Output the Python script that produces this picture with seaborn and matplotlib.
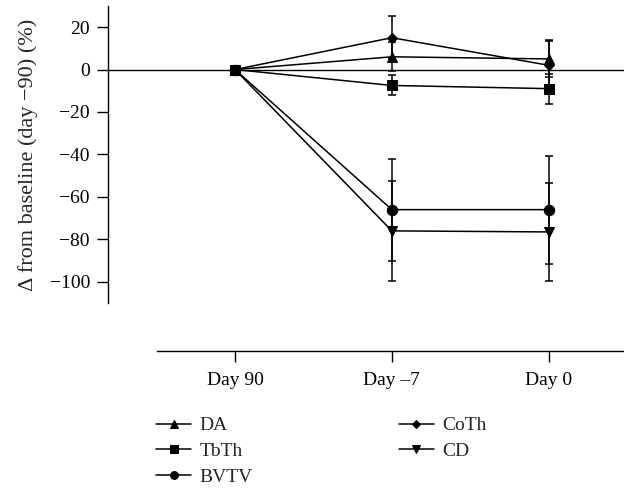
import numpy as np
import pandas as pd
import matplotlib
matplotlib.use("Agg")
import matplotlib.pyplot as plt
import seaborn as sns

days = ["Day 90", "Day \u20137", "Day 0"]

da = [0, 6, 5]
da_err = [0, 6.8, 8.5]
tbth = [0, -7.5, -9]
tbth_err = [0, 4.7, 7]
bvtv = [0, -66, -66]
bvtv_err = [0, 24, 25.5]
coth = [0, 15, 2]
coth_err = [0, 10, 12]
cd = [0, -76, -76.5]
cd_err = [0, 23.5, 23]

series = {
    "DA": (da, da_err, "^", 7),
    "TbTh": (tbth, tbth_err, "s", 7.5),
    "BVTV": (bvtv, bvtv_err, "o", 7.5),
    "CoTh": (coth, coth_err, "D", 5),
    "CD": (cd, cd_err, "v", 7),
}

sns.set_theme(style="ticks")
plt.rcParams["font.family"] = ["Liberation Serif", "DejaVu Serif"]
plt.rcParams["axes.unicode_minus"] = True

fig = plt.figure(figsize=(6.24, 4.88), dpi=100)
ax = fig.add_axes([0.173, 0.379, 0.827, 0.609])

ax.axhline(0, color="black", lw=1.0, zorder=1)

for name, (vals, errs, mk, ms) in series.items():
    df = pd.DataFrame({"day": days, "value": vals})
    sns.lineplot(data=df, x="day", y="value", sort=False, color="black",
                 marker=mk, markersize=ms, markeredgecolor="black",
                 linewidth=1.1, label=name, ax=ax, zorder=3)
    ax.errorbar(days, vals, yerr=errs, fmt="none", ecolor="black",
                elinewidth=1.1, capsize=3, capthick=1.1, zorder=2)

ax.set_xlim(-0.81, 2.48)
ax.set_ylim(-110, 30)
ax.set_yticks([20, 0, -20, -40, -60, -80, -100])
ax.set_xlabel("")
ax.set_ylabel("\u0394 from baseline (day \u221290) (%)", fontsize=16, labelpad=8)

ax.spines["top"].set_visible(False)
ax.spines["right"].set_visible(False)
ax.spines["bottom"].set_position(("outward", 34.5))
ax.spines["bottom"].set_bounds(-0.5, 2.5)
for sp in ["left", "bottom"]:
    ax.spines[sp].set_linewidth(1.0)
    ax.spines[sp].set_color("black")
ax.tick_params(axis="both", direction="out", length=8, width=1.0,
               colors="black", labelsize=14, pad=5)
ax.tick_params(axis="x", pad=7)

handles, labels = ax.get_legend_handles_labels()
ax.get_legend().remove()
fig.legend(handles, labels, ncol=2, loc="upper left",
           bbox_to_anchor=(0.25, 0.146), frameon=False, fontsize=14,
           handlelength=1.8, handletextpad=0.45, columnspacing=7.5,
           labelspacing=0.42, markerscale=0.75, borderpad=0, borderaxespad=0)

fig.savefig("out.png", dpi=100)
